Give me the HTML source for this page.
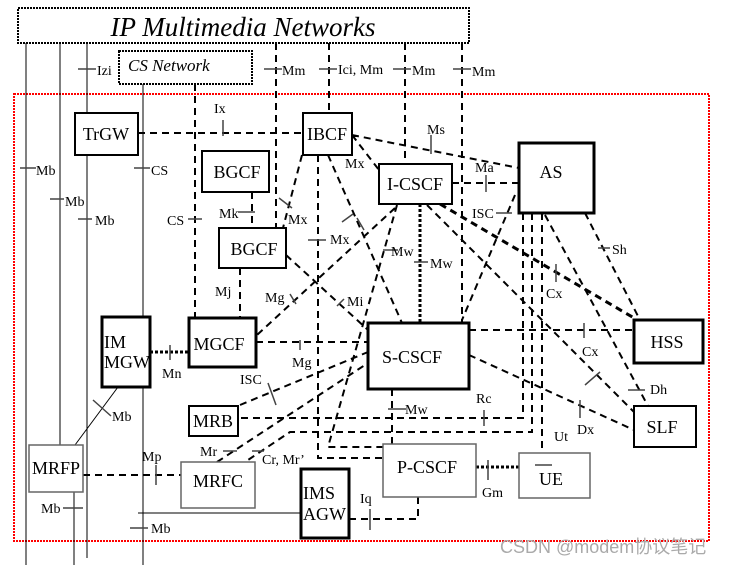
<!DOCTYPE html>
<html><head><meta charset="utf-8"><style>
body{margin:0;background:#fff}
svg{display:block}
text{font-family:"Liberation Serif",serif;font-size:14px;fill:#000}
.b{fill:#fff;stroke:#000;stroke-width:2}
.bt{fill:#fff;stroke:#000;stroke-width:3}
.bg{fill:#fff;stroke:#666;stroke-width:1.5}
.d{stroke:#000;stroke-width:2;stroke-dasharray:7,5;fill:none}
.dt{stroke:#000;stroke-width:3;stroke-dasharray:7,5;fill:none}
.o{stroke:#000;stroke-width:3;stroke-dasharray:3,2;fill:none}
.s{stroke:#000;stroke-width:1;fill:none}
.t{stroke:#444;stroke-width:1.5;fill:none}
.bl{font-size:18px}
</style></head><body>
<svg width="731" height="565" viewBox="0 0 731 565" xmlns="http://www.w3.org/2000/svg">
<rect x="14" y="94" width="695" height="447" fill="none" stroke="#f00" stroke-width="2" stroke-dasharray="2,1"/>
<path class="s" d="M26 43V565M60 43V445M87 43V113M87 155V558M143 84V317M143 387V565M74 492V565M138 513H301"/>
<path class="s" d="M118 387L75 445"/>
<path class="d" d="M195 84V318M276 43V228M329 43V113M405 43V164M462 43V323M252 192V228M240 268V318M318 155V458H383"/>
<path class="d" d="M523 213V418H238M532 213V432H290L245 462M542 213V453"/>
<path class="d" d="M138 133H303M352 135L519 168M352 135L379 170M452 183H519M302 155L283 228M328 155L402 323M395 208L257 335M397 205L328 447H383M286 255L368 330M256 342H368M515 195L462 320M585 213L640 320M545 215L648 406M427 205L634 412M469 330H634M469 355L634 430M240 405L368 352M217 462L368 363M392 389V444M349 519H418V497M83 475H181"/>
<path class="dt" d="M440 204L634 318"/>
<path class="o" d="M420 204V323M150 352H189M476 467H519"/>
<rect x="18" y="8" width="451" height="35" fill="#fff" stroke="#000" stroke-width="2" stroke-dasharray="2,1"/>
<text x="243" y="36" text-anchor="middle" style="font-size:27px;font-style:italic">IP Multimedia Networks</text>
<rect x="119" y="51" width="133" height="33" fill="#fff" stroke="#000" stroke-width="2" stroke-dasharray="2,1"/>
<text x="128" y="71" style="font-size:17px;font-style:italic">CS Network</text>
<rect class="b" x="75" y="113" width="63" height="42"/><text class="bl" x="106" y="140" text-anchor="middle">TrGW</text>
<rect class="b" x="303" y="113" width="49" height="42"/><text class="bl" x="327" y="140" text-anchor="middle">IBCF</text>
<rect class="b" x="202" y="151" width="67" height="41"/><text class="bl" x="237" y="178" text-anchor="middle">BGCF</text>
<rect class="b" x="219" y="228" width="67" height="40"/><text class="bl" x="254" y="255" text-anchor="middle">BGCF</text>
<rect class="b" x="379" y="164" width="73" height="40"/><text class="bl" x="415" y="190" text-anchor="middle">I-CSCF</text>
<rect class="bt" x="519" y="143" width="75" height="70"/><text class="bl" x="551" y="178" text-anchor="middle">AS</text>
<rect class="bt" x="102" y="317" width="48" height="70"/><text class="bl" x="104" y="348">IM</text><text class="bl" x="104" y="368">MGW</text>
<rect class="bt" x="189" y="318" width="67" height="49"/><text class="bl" x="219" y="350" text-anchor="middle">MGCF</text>
<rect class="bt" x="368" y="323" width="101" height="66"/><text class="bl" x="412" y="363" text-anchor="middle">S-CSCF</text>
<rect class="bt" x="634" y="320" width="69" height="43"/><text class="bl" x="667" y="348" text-anchor="middle">HSS</text>
<rect class="b" x="634" y="406" width="62" height="41"/><text class="bl" x="662" y="433" text-anchor="middle">SLF</text>
<rect class="b" x="189" y="406" width="49" height="30"/><text class="bl" x="213" y="427" text-anchor="middle">MRB</text>
<rect class="bg" x="29" y="445" width="54" height="47"/><text class="bl" x="56" y="474" text-anchor="middle">MRFP</text>
<rect class="bg" x="181" y="462" width="74" height="46"/><text class="bl" x="218" y="487" text-anchor="middle">MRFC</text>
<rect class="bt" x="301" y="469" width="48" height="69"/><text class="bl" x="303" y="499">IMS</text><text class="bl" x="303" y="520">AGW</text>
<rect class="bg" x="383" y="444" width="93" height="53"/><text class="bl" x="427" y="473" text-anchor="middle">P-CSCF</text>
<rect class="bg" x="519" y="453" width="71" height="45"/><text class="bl" x="551" y="485" text-anchor="middle">UE</text>
<path class="t" d="M78 69H96M264 69H282M319 69H337M393 69H411M453 69H471M20 168H36M50 199H64M78 219H92M134 168H150M188 219H202M223 120V136M238 212H255M431 135V154M486 175V192M279 198L292 208M357 218L364 230M308 240H326M342 222L353 214M383 250H398M414 262H428M496 213H512M598 248H610M556 264V282M290 294L296 304M337 306L344 299M584 323V338M585 385L600 372M580 400V418M628 390H645M535 465H552M300 340V350M170 345V360M268 383L276 405M223 451H237M252 451H264M156 465V485M63 508H83M130 528H148M388 409H406M484 410V426M488 460V480M370 509V530M93 400L111 416"/>
<text x="97" y="75">Izi</text><text x="282" y="75">Mm</text><text x="338" y="74">Ici, Mm</text><text x="412" y="75">Mm</text><text x="472" y="76">Mm</text>
<text x="36" y="175">Mb</text><text x="65" y="206">Mb</text><text x="95" y="225">Mb</text><text x="151" y="175">CS</text><text x="167" y="225">CS</text>
<text x="214" y="113">Ix</text><text x="219" y="218">Mk</text><text x="288" y="224">Mx</text><text x="427" y="134">Ms</text>
<text x="345" y="168">Mx</text><text x="475" y="172">Ma</text><text x="330" y="244">Mx</text><text x="391" y="256">Mw</text><text x="430" y="268">Mw</text>
<text x="472" y="218">ISC</text><text x="612" y="254">Sh</text><text x="546" y="298">Cx</text><text x="215" y="296">Mj</text><text x="265" y="302">Mg</text>
<text x="347" y="306">Mi</text><text x="582" y="356">Cx</text><text x="162" y="378">Mn</text><text x="292" y="367">Mg</text><text x="240" y="384">ISC</text>
<text x="650" y="394">Dh</text><text x="577" y="434">Dx</text><text x="112" y="421">Mb</text><text x="405" y="414">Mw</text><text x="476" y="403">Rc</text>
<text x="200" y="456">Mr</text><text x="262" y="464">Cr, Mr’</text><text x="554" y="441">Ut</text><text x="142" y="461">Mp</text>
<text x="41" y="513">Mb</text><text x="151" y="533">Mb</text><text x="360" y="503">Iq</text><text x="482" y="497">Gm</text>
<text x="500" y="553" style="font-family:'Liberation Sans','Noto Sans CJK SC',sans-serif;font-size:18px;fill:#aaa">CSDN @modem协议笔记</text>
</svg>
</body></html>
